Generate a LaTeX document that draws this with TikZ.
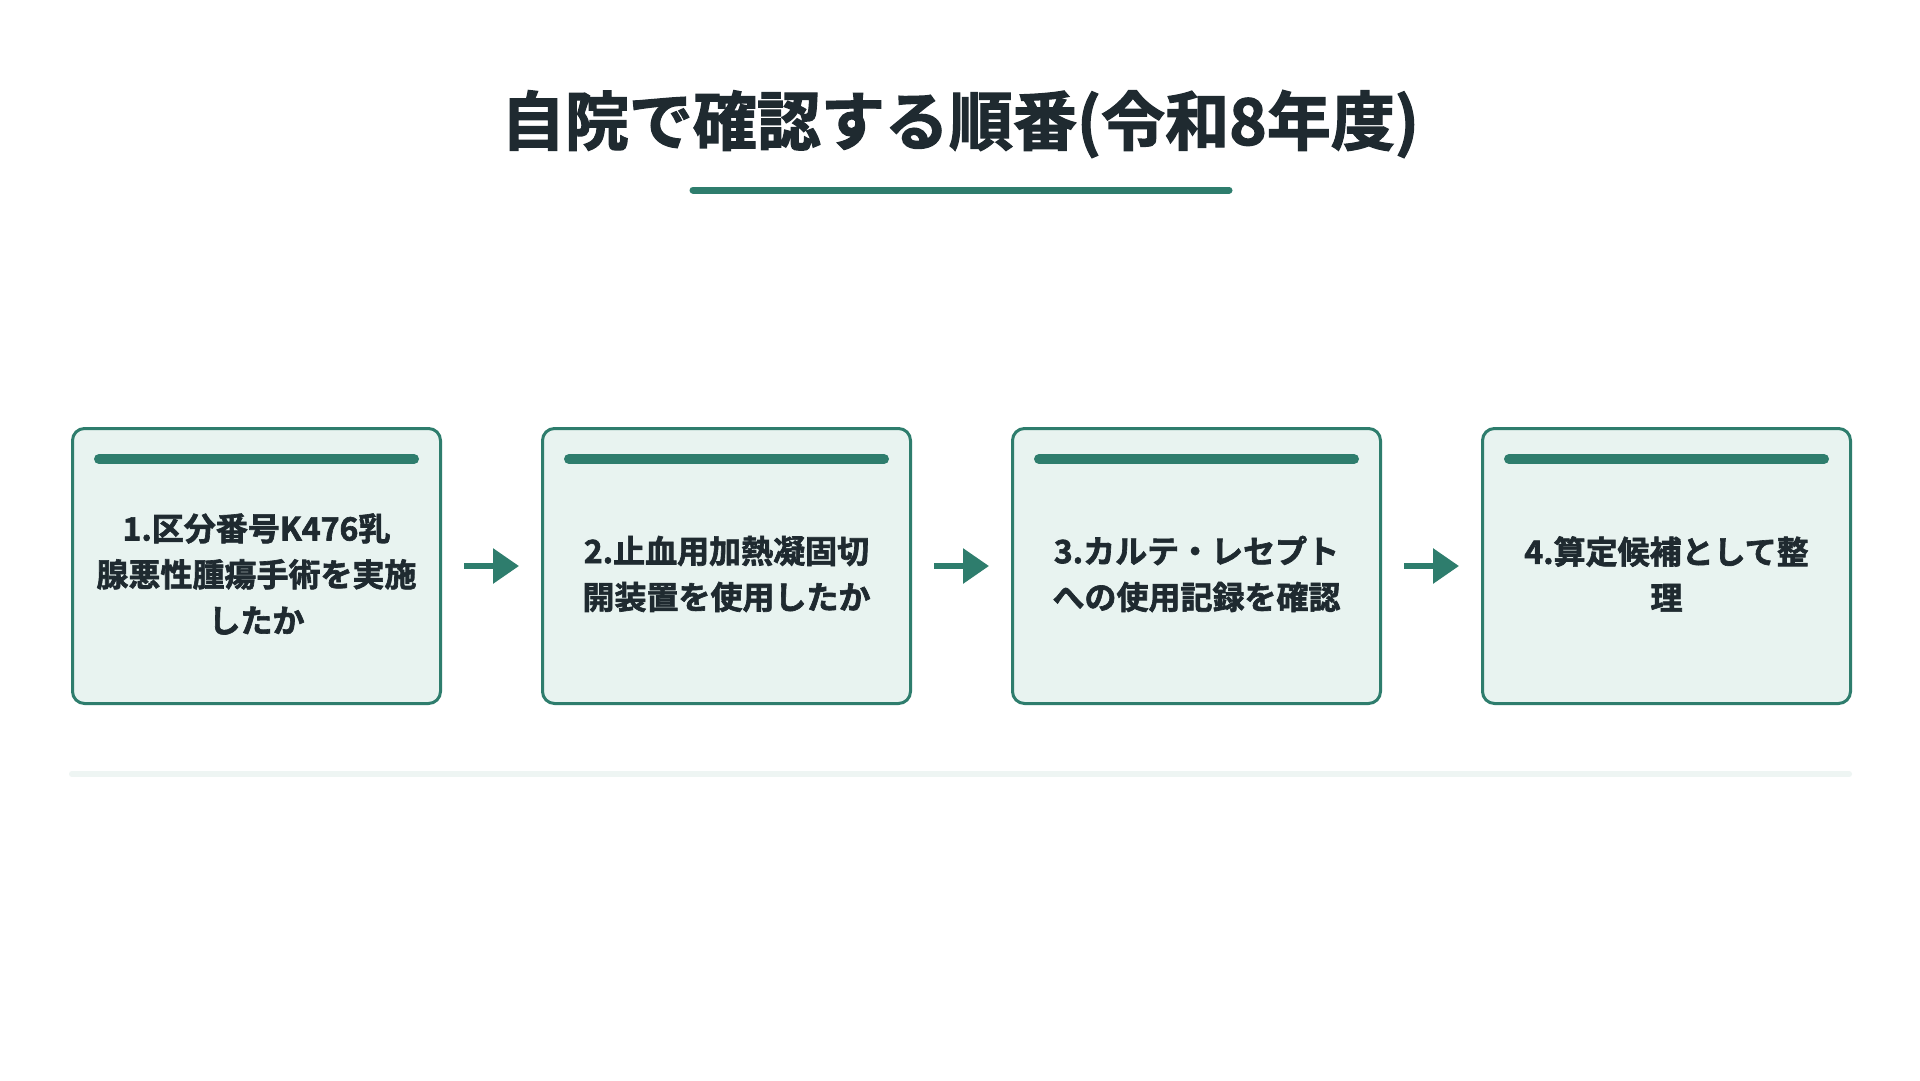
\documentclass[tikz,border=0pt]{standalone}
\usepackage{fontspec}
\setmainfont{Noto Sans CJK JP}[BoldFont={Noto Sans CJK JP Bold},BoldFeatures={FakeBold=2}]
\usetikzlibrary{arrows.meta}
\begin{document}
\definecolor{acc}{HTML}{2E7D6D}
\definecolor{boxfill}{HTML}{E8F3F0}
\definecolor{txt}{HTML}{1F2A30}
\definecolor{lite}{HTML}{EEF5F3}
\begin{tikzpicture}[x=1pt,y=-1pt,
  box/.style={draw=acc,line width=3pt,fill=boxfill,rounded corners=12pt,minimum width=368pt,minimum height=275pt,anchor=north west},
  lbl/.style={text=txt,font=\bfseries\fontsize{32}{46}\selectfont,align=center,text width=340pt},
  bar/.style={acc,line width=10pt,line cap=round},
  arr/.style={acc,line width=6pt,-{Triangle[length=26pt,width=34pt]}}]
\useasboundingbox[fill=white] (0,0) rectangle (1920,1080);
\node[text=txt,font=\bfseries\fontsize{64}{66}\selectfont] (title) at (960,124) {自院で確認する順番(令和8年度)};
\draw[acc,line width=7pt,line cap=round] (693,190) coordinate (u1) -- (1229,190) coordinate (u2);
\foreach \i/\x/\t in {1/71/{1.区分番号K476乳\\腺悪性腫瘍手術を実施\\したか},2/541/{2.止血用加熱凝固切\\開装置を使用したか},3/1011/{3.カルテ・レセプト\\への使用記録を確認},4/1481/{4.算定候補として整\\理}}{
  \node[box] (b\i) at (\x,427) {};
  \draw[bar] ([xshift=28pt,yshift=-32pt]b\i.north west) -- ([xshift=-28pt,yshift=-32pt]b\i.north east);
  \node[lbl] (t\i) at ([yshift=-8pt]b\i.center) {\t};
}
\foreach \a/\b in {1/2,2/3,3/4}{
  \draw[arr] ([xshift=22pt]b\a.east) -- ([xshift=-22pt]b\b.west);
}
\draw[lite,line width=6pt,line cap=round] (72,774) coordinate (l1) -- (1849,774) coordinate (l2);
\end{tikzpicture}
\end{document}
